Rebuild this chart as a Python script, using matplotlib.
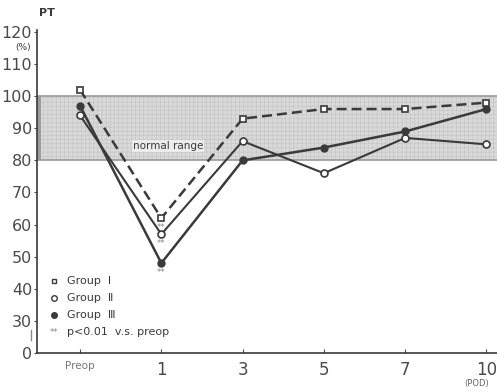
import matplotlib
matplotlib.use("Agg")
import matplotlib.pyplot as plt
from matplotlib.patches import Rectangle

# PT (%) by postoperative day
days = ["Preop", "1", "3", "5", "7", "10"]
group1 = [102, 62, 93, 96, 96, 98]
group2 = [94, 57, 86, 76, 87, 85]
group3 = [97, 48, 80, 84, 89, 96]
normal_low, normal_high = 80, 100
yticks = [20, 30, 40, 50, 60, 70, 80, 90, 100, 110, 120]
ytick_labels = ["0", "30", "40", "50", "60", "70", "80", "90", "100", "110", "120"]

INK = "#3a3a3a"
plt.rcParams["font.family"] = ["DejaVu Sans", "Noto Sans CJK JP"]
plt.rcParams["hatch.linewidth"] = 0.4

fig = plt.figure(figsize=(4.97, 3.92), dpi=100)
ax = fig.add_axes([0.0744, 0.0995, 0.9256, 0.823])
x = list(range(len(days)))

# normal range band
ax.add_patch(Rectangle((-0.53, normal_low), 6, normal_high - normal_low,
                       facecolor="#d9d9d9", edgecolor="#c4c4c4", lw=0,
                       hatch="++++", zorder=0))
ax.axhline(normal_high, color="#9a9a9a", lw=1.2, zorder=1)
ax.axhline(normal_low, color="#9a9a9a", lw=1.2, zorder=1)
ax.add_patch(Rectangle((-0.53, normal_low), 0.045, normal_high - normal_low,
                       facecolor="#9c9c9c", edgecolor="none", zorder=1))
ax.text(1.08, 84.5, "normal range", fontsize=7.5, color=INK, ha="center",
        va="center", bbox=dict(facecolor="#ececec", edgecolor="none", pad=0.5),
        zorder=2)

ax.plot(x, group1, color=INK, lw=1.8, ls=(0, (4, 2)), marker="s", ms=5,
        mfc="white", mec=INK, mew=1.2, zorder=4)
ax.plot(x, group2, color=INK, lw=1.5, marker="o", ms=5,
        mfc="white", mec=INK, mew=1.2, zorder=3)
ax.plot(x, group3, color=INK, lw=1.8, marker="o", ms=5,
        mfc=INK, mec=INK, zorder=3)

# significance marks at POD 1
for g in (group1, group2, group3):
    ax.annotate("**", (1, g[1]), xytext=(0, -7), textcoords="offset points",
                ha="center", va="center", fontsize=6, color="#888888",
                zorder=6)

ax.set_xlim(-0.53, 5.13)
ax.set_ylim(20, 120.5)
ax.set_xticks(x)
ax.set_xticklabels(days)
ax.set_yticks(yticks)
ax.set_yticklabels(ytick_labels)
ax.tick_params(axis="y", direction="out", length=2.5, labelsize=11.5,
               colors="#4a4a4a", pad=1)
ax.tick_params(axis="x", direction="in", length=3, labelsize=12,
               colors="#4a4a4a", pad=6)
ax.get_xticklabels()[0].set_fontsize(7.5)
ax.get_xticklabels()[0].set_color("#777777")
for side in ("top", "right"):
    ax.spines[side].set_visible(False)
for side in ("left", "bottom"):
    ax.spines[side].set_color(INK)
    ax.spines[side].set_linewidth(1.2)

# small break mark between 0 and 30
ax.plot([-0.012, -0.012], [0.04, 0.07], transform=ax.transAxes,
        color="#888888", lw=1, clip_on=False)

fig.text(0.095, 0.968, "PT", fontsize=8, color=INK, ha="center", va="center",
         weight="bold")
fig.text(0.046, 0.880, "(%)", fontsize=6.5, color=INK, ha="center",
         va="center")
fig.text(0.960, 0.022, "(POD)", fontsize=6, color="#666666", ha="center",
         va="center")

# legend
leg_x = 0.037
ax.plot([leg_x], [0.222], transform=ax.transAxes, marker="s", ms=3.5,
        mfc="white", mec=INK, mew=1, clip_on=False)
ax.plot([leg_x], [0.170], transform=ax.transAxes, marker="o", ms=4,
        mfc="white", mec=INK, mew=1, clip_on=False)
ax.plot([leg_x], [0.117], transform=ax.transAxes, marker="o", ms=4,
        mfc=INK, mec=INK, clip_on=False)
for yy, lab in ((0.222, "Group  Ⅰ"), (0.170, "Group  Ⅱ"), (0.117, "Group  Ⅲ")):
    ax.text(0.066, yy, lab, transform=ax.transAxes, fontsize=8, color=INK,
            va="center")
ax.text(0.027, 0.065, "**", transform=ax.transAxes, fontsize=6,
        color="#888888", va="center")
ax.text(0.066, 0.065, "p<0.01  v.s. preop", transform=ax.transAxes,
        fontsize=8, color=INK, va="center")

fig.savefig("out.png", dpi=100)
